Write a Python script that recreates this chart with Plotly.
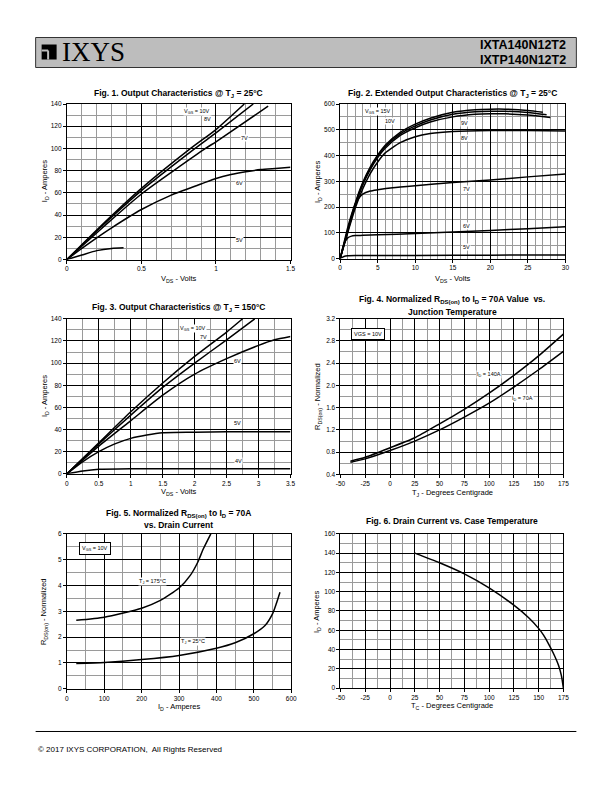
import plotly.graph_objects as go

# ---------------- DATA ----------------
# Fig 1: Output characteristics @ TJ=25C  (VDS volts, ID amperes)
f1_10v_x = [0, 0.25, 0.5, 0.83, 1.0, 1.19]
f1_10v_y = [0, 33, 64, 100, 117, 140]
f1_8v_x = [0, 0.25, 0.5, 0.86, 1.0, 1.25]
f1_8v_y = [0, 32, 62, 100, 114, 140]
f1_7v_x = [0, 0.25, 0.5, 0.93, 1.0, 1.35]
f1_7v_y = [0, 30, 59, 100, 106, 138]
f1_6v_x = [0, 0.1, 0.2, 0.3, 0.5, 0.7, 0.9, 1.0, 1.1, 1.2, 1.3, 1.4, 1.5]
f1_6v_y = [0, 10, 19.5, 28.5, 45, 58, 68, 73, 76.5, 79, 81, 82, 83]
f1_5v_x = [0, 0.1, 0.2, 0.3, 0.38]
f1_5v_y = [0, 4, 8, 10, 10.5]

# Fig 2: Extended output characteristics @ TJ=25C
f2_15v_x = [0, 1, 2, 3, 4, 5, 6, 8, 10, 12, 15, 18, 20, 22, 25, 27]
f2_15v_y = [0, 110, 215, 295, 355, 402, 440, 490, 522, 545, 568, 578, 580, 580, 575, 568]
f2_10v_x = [0, 1, 2, 3, 4, 5, 6, 8, 10, 12, 15, 18, 20, 22, 25, 27.5]
f2_10v_y = [0, 108, 210, 290, 350, 398, 435, 484, 515, 538, 560, 570, 572, 572, 567, 558]
f2_9v_x = [0, 1, 2, 3, 4, 5, 6, 8, 10, 12, 15, 18, 20, 22, 25, 28]
f2_9v_y = [0, 105, 205, 285, 345, 392, 428, 478, 508, 530, 550, 560, 562, 562, 557, 548]
f2_8v_x = [0, 1, 2, 3, 4, 5, 6, 8, 10, 12, 15, 20, 25, 30]
f2_8v_y = [0, 100, 195, 270, 330, 375, 410, 450, 473, 485, 493, 497, 497, 495]
f2_7v_x = [0, 0.5, 1, 1.5, 2, 2.5, 3, 4, 5, 7, 10, 15, 20, 25, 30]
f2_7v_y = [0, 60, 120, 170, 210, 235, 250, 262, 267, 275, 283, 295, 305, 317, 328]
f2_6v_x = [0, 0.5, 1, 1.5, 2, 3, 5, 10, 15, 20, 25, 30]
f2_6v_y = [0, 55, 80, 87, 89, 90, 92, 97, 103, 109, 116, 123]
f2_5v_x = [0, 0.5, 1, 2, 5, 10, 20, 30]
f2_5v_y = [0, 8, 11, 12, 12, 12, 13, 14]

# Fig 3: Output characteristics @ TJ=150C
f3_10v_x = [0, 0.5, 1, 1.5, 2, 2.5, 2.75]
f3_10v_y = [0, 28, 56, 82, 106, 128, 140]
f3_7v_x = [0, 0.5, 1, 1.5, 2, 2.5, 2.94]
f3_7v_y = [0, 27, 53, 78, 100, 121, 140]
f3_6v_x = [0, 0.5, 1, 1.5, 2, 2.5, 3, 3.25, 3.5]
f3_6v_y = [0, 25, 48, 71, 90, 104, 116, 121, 124]
f3_5v_x = [0, 0.25, 0.5, 0.75, 1, 1.25, 1.5, 2, 2.5, 3, 3.5]
f3_5v_y = [0, 11, 20, 27, 32, 35, 37, 37.5, 38, 38, 38]
f3_4v_x = [0, 0.25, 0.5, 1, 2, 2.6, 3.5]
f3_4v_y = [0, 2.5, 4, 4.5, 4.5, 4.5, 4.5]

# Fig 4: Normalized RDS(on) vs junction temperature
f4_tj = [-40, -25, 0, 25, 50, 75, 100, 125, 150, 175]
f4_140a = [0.64, 0.71, 0.88, 1.06, 1.31, 1.57, 1.86, 2.18, 2.53, 2.92]
f4_70a = [0.62, 0.68, 0.83, 1.00, 1.20, 1.43, 1.68, 1.97, 2.28, 2.61]

# Fig 5: Normalized RDS(on) vs drain current
f5_175_id = [25, 100, 200, 250, 300, 330, 350, 365, 385]
f5_175_r = [2.65, 2.77, 3.12, 3.42, 3.9, 4.39, 4.9, 5.42, 6.0]
f5_25_id = [25, 100, 200, 300, 400, 450, 500, 530, 550, 560, 570]
f5_25_r = [0.98, 1.02, 1.13, 1.29, 1.57, 1.78, 2.13, 2.45, 2.9, 3.29, 3.74]

# Fig 6: Drain current vs case temperature
f6_tc = [25, 50, 75, 100, 125, 140, 150, 155, 160, 165, 170, 173, 175]
f6_id = [140, 130, 118.5, 104, 86, 73, 62, 55, 46, 36, 24, 13, 0]

# temperature tick labels (plain hyphen minus as in the datasheet)
temp_ticks = [-50, -25, 0, 25, 50, 75, 100, 125, 150, 175]
temp_tick_text = ["-50", "-25", "0", "25", "50", "75", "100", "125", "150", "175"]

# page is offset by the default 8px body margin, so the figure covers 596x776
OFF = 8
W, H = 612 - 2 * OFF, 792 - 2 * OFF
FONT = "Liberation Sans, Arial, sans-serif"
SX, SY = 0.982, 0.991  # observed compression of the rendered page


def px(x):
    x = 306 + (x - 306) / SX
    return (x - OFF) / W


def py(y):
    y = 396 + (y - 396) / SY
    return 1 - (y - OFF) / H


fig = go.Figure()

# (xdomain px, ydomain px, xrange, xmajor, xminor, yrange, ymajor, yminor, yfmt, temp x-axis)
axes = [
    ((67.3, 291), (259, 103.5), (0, 1.5), 0.5, 0.1, (0, 140), 20, 10, None, False),
    ((340.7, 566), (258, 103.5), (0, 30), 5, 1, (0, 600), 100, 50, None, False),
    ((67.3, 291), (473.3, 318.3), (0, 3.5), 0.5, 0.25, (0, 140), 20, 10, None, False),
    ((341, 564), (474, 318), (-50, 175), 25, 12.5, (0.4, 3.2), 0.4, 0.2, ".1f", True),
    ((67.3, 291.7), (688.3, 533.3), (0, 600), 100, 50, (0, 6), 1, 0.5, None, False),
    ((341, 564), (687.7, 533.3), (-50, 175), 25, 12.5, (0, 160), 20, 10, None, True),
]

layout_axes = {}
for i, (xd, yd, xr, xmaj, xmin, yr, ymaj, ymin, yfmt, tempx) in enumerate(axes, start=1):
    sfx = "" if i == 1 else str(i)
    common = dict(
        showline=True, linecolor="black", linewidth=1, mirror=True,
        showgrid=True, gridcolor="black", gridwidth=1,
        ticks="outside", ticklen=3, tickcolor="black", tickwidth=1,
        tickfont=dict(family=FONT, size=6.5, color="black"),
        zeroline=False, fixedrange=True,
    )
    xa = dict(
        common, domain=[px(xd[0]), px(xd[1])], range=list(xr), dtick=xmaj, tick0=xr[0],
        anchor="y" + sfx,
        minor=dict(dtick=xmin, tick0=xr[0], showgrid=True, gridcolor="#9a9a9a", gridwidth=1, ticks=""),
    )
    if tempx:
        xa["tickmode"] = "array"
        xa["tickvals"] = temp_ticks
        xa["ticktext"] = temp_tick_text
    layout_axes["xaxis" + sfx] = xa
    ya = dict(
        common, domain=[py(yd[0]), py(yd[1])], range=list(yr), dtick=ymaj, tick0=yr[0],
        anchor="x" + sfx,
        minor=dict(dtick=ymin, tick0=yr[0], showgrid=True, gridcolor="#9a9a9a", gridwidth=1, ticks=""),
    )
    if yfmt:
        ya["tickformat"] = yfmt
    layout_axes["yaxis" + sfx] = ya


def add(x, y, k):
    sfx = "" if k == 1 else str(k)
    fig.add_trace(go.Scatter(x=x, y=y, mode="lines", xaxis="x" + sfx, yaxis="y" + sfx,
                             line=dict(color="black", width=1.5, shape="spline", smoothing=0.6),
                             showlegend=False, hoverinfo="skip"))


for xs, ys in [(f1_10v_x, f1_10v_y), (f1_8v_x, f1_8v_y), (f1_7v_x, f1_7v_y), (f1_6v_x, f1_6v_y), (f1_5v_x, f1_5v_y)]:
    add(xs, ys, 1)
for xs, ys in [(f2_15v_x, f2_15v_y), (f2_10v_x, f2_10v_y), (f2_9v_x, f2_9v_y), (f2_8v_x, f2_8v_y),
               (f2_7v_x, f2_7v_y), (f2_6v_x, f2_6v_y), (f2_5v_x, f2_5v_y)]:
    add(xs, ys, 2)
for xs, ys in [(f3_10v_x, f3_10v_y), (f3_7v_x, f3_7v_y), (f3_6v_x, f3_6v_y), (f3_5v_x, f3_5v_y), (f3_4v_x, f3_4v_y)]:
    add(xs, ys, 3)
add(f4_tj, f4_140a, 4)
add(f4_tj, f4_70a, 4)
add(f5_175_id, f5_175_r, 5)
add(f5_25_id, f5_25_r, 5)
add(f6_tc, f6_id, 6)

ann = []


def text(x, y, t, size=6.5, bold=False, bg=None, xanchor="center", angle=0, family=FONT, border=None):
    if bold:
        t = "<b>" + t + "</b>"
    d = dict(x=px(x), y=py(y), xref="paper", yref="paper", text=t, showarrow=False,
             font=dict(family=family, size=size, color="black"), xanchor=xanchor, yanchor="middle",
             textangle=angle)
    if bg:
        d["bgcolor"] = bg
        d["borderpad"] = 0
    if border:
        d["bordercolor"] = "black"
        d["borderwidth"] = 1
        d["borderpad"] = 2
        d["bgcolor"] = "white"
    ann.append(d)


# titles
text(179, 93, "Fig. 1. Output Characteristics @ T<sub>J</sub> = 25°C", 8.5, True)
text(453, 93, "Fig. 2. Extended Output Characteristics @ T<sub>J</sub> = 25°C", 8.5, True)
text(179, 307, "Fig. 3. Output Characteristics @ T<sub>J</sub> = 150°C", 8.5, True)
text(453, 299, "Fig. 4. Normalized R<sub>DS(on)</sub> to I<sub>D</sub> = 70A Value  vs.", 8.5, True)
text(453, 311, "Junction Temperature", 8.5, True)
text(179, 513, "Fig. 5. Normalized R<sub>DS(on)</sub> to I<sub>D</sub> = 70A", 8.5, True)
text(179, 525, "vs. Drain Current", 8.5, True)
text(453, 521, "Fig. 6. Drain Current vs. Case Temperature", 8.5, True)

# axis titles
text(179, 278, "V<sub>DS</sub> - Volts", 7.5)
text(453, 278, "V<sub>DS</sub> - Volts", 7.5)
text(179, 492, "V<sub>DS</sub> - Volts", 7.5)
text(453, 493, "T<sub>J</sub> - Degrees Centigrade", 7.5)
text(179, 707, "I<sub>D</sub> - Amperes", 7.5)
text(453, 706, "T<sub>C</sub> - Degrees Centigrade", 7.5)
text(45, 181, "I<sub>D</sub> - Amperes", 7.5, angle=-90)
text(318, 181, "I<sub>D</sub> - Amperes", 7.5, angle=-90)
text(45, 396, "I<sub>D</sub> - Amperes", 7.5, angle=-90)
text(318, 396, "R<sub>DS(on)</sub> - Normalized", 7.5, angle=-90)
text(45, 611, "R<sub>DS(on)</sub> - Normalized", 7.5, angle=-90)
text(318, 611, "I<sub>D</sub> - Amperes", 7.5, angle=-90)

# curve labels
text(197, 111, "V<sub>GS</sub> = 10V", 5.5, bg="white")
text(208, 118, "8V", 5.5, bg="white")
text(245, 137, "7V", 5.5, bg="white")
text(240, 182, "6V", 5.5, bg="white")
text(240, 239, "5V", 5.5, bg="white")

text(379, 111, "V<sub>GS</sub> = 15V", 5.5, bg="white")
text(391, 120, "10V", 5.5, bg="white")
text(465, 122, "9V", 5.5, bg="white")
text(465, 137, "8V", 5.5, bg="white")
text(467, 188, "7V", 5.5, bg="white")
text(467, 225, "6V", 5.5, bg="white")
text(467, 246, "5V", 5.5, bg="white")

text(193, 328, "V<sub>GS</sub> = 10V", 5.5, bg="white")
text(204, 336, "7V", 5.5, bg="white")
text(238, 360, "6V", 5.5, bg="white")
text(238, 423, "5V", 5.5, bg="white")
text(239, 461, "4V", 5.5, bg="white")

text(369, 333, "VGS = 10V", 5.5, border=True)
text(490, 374, "I<sub>D</sub> = 140A", 5.5, bg="white")
text(523, 398, "I<sub>D</sub> = 70A", 5.5, bg="white")

text(95, 548, "V<sub>GS</sub> = 10V", 5.5, border=True)
text(153, 581, "T<sub>J</sub> = 175°C", 5.5, bg="white")
text(193, 641, "T<sub>J</sub> = 25°C", 5.5, bg="white")

# header
text(60, 51, "IXYS", 27, family="Liberation Serif, DejaVu Serif, serif", xanchor="left")
text(569, 44, "IXTA140N12T2", 12.5, True, xanchor="right")
text(569, 59, "IXTP140N12T2", 12.5, True, xanchor="right")

# footer
text(36, 749, "© 2017 IXYS CORPORATION,  All Rights Reserved", 8, xanchor="left")

shapes = [
    dict(type="rect", xref="paper", yref="paper", x0=px(36), x1=px(577), y0=py(67), y1=py(37),
         fillcolor="#bdbdbd", line=dict(color="#333333", width=1), layer="below"),
    dict(type="rect", xref="paper", yref="paper", x0=px(42), x1=px(57), y0=py(59), y1=py(44),
         fillcolor="black", line=dict(width=0)),
    dict(type="line", xref="paper", yref="paper", x0=px(48.5), x1=px(48.5), y0=py(59), y1=py(50),
         line=dict(color="#bdbdbd", width=2)),
    dict(type="line", xref="paper", yref="paper", x0=px(42), x1=px(48.5), y0=py(50), y1=py(50),
         line=dict(color="#bdbdbd", width=2)),
    dict(type="line", xref="paper", yref="paper", x0=px(36), x1=px(577), y0=py(731), y1=py(731),
         line=dict(color="black", width=1)),
]

fig.update_layout(
    width=W, height=H, autosize=False,
    margin=dict(l=0, r=0, t=0, b=0),
    paper_bgcolor="white", plot_bgcolor="white",
    annotations=ann, shapes=shapes, showlegend=False,
    **layout_axes,
)

fig.write_html("out.html", config={"displayModeBar": False})
